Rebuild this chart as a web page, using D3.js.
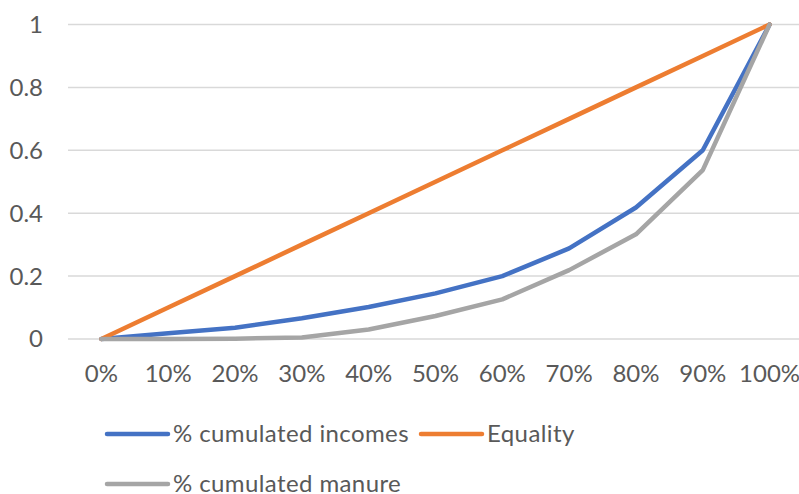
<!DOCTYPE html>
<html><head><meta charset="utf-8">
<script src="https://cdn.jsdelivr.net/npm/d3@7"></script>
<style>body{margin:0;background:#fff}svg{display:block}</style>
</head><body>
<script>
const categories = ["0%","10%","20%","30%","40%","50%","60%","70%","80%","90%","100%"];
const incomes = [0, 0.018, 0.036, 0.066, 0.102, 0.145, 0.2, 0.288, 0.418, 0.6, 1];
const equality = [0, 0.1, 0.2, 0.3, 0.4, 0.5, 0.6, 0.7, 0.8, 0.9, 1];
const manure = [0, 0, 0.001, 0.005, 0.03, 0.073, 0.126, 0.219, 0.333, 0.537, 1];
const yTicks = [0, 0.2, 0.4, 0.6, 0.8, 1];
const seriesNames = ["% cumulated incomes", "Equality", "% cumulated manure"];
const colors = ["#4472C4", "#ED7D31", "#A5A5A5"];

const W = 799, H = 494;
const font = "Lato, 'Open Sans', sans-serif";
const svg = d3.select("body").append("svg").attr("width", W).attr("height", H);

const x = d3.scaleBand().domain(categories).range([68, 803]);
const y = d3.scaleLinear().domain([0, 1]).range([339, 24.5]);

// gridlines
svg.append("g").selectAll("line").data(yTicks).join("line")
  .attr("x1", 68).attr("x2", 799)
  .attr("y1", d => y(d)).attr("y2", d => y(d))
  .attr("stroke", "#D9D9D9").attr("stroke-width", 1.5);

// y labels
svg.append("g").selectAll("text").data(yTicks).join("text")
  .attr("x", 43).attr("y", d => y(d)).attr("dy", "0.35em")
  .attr("text-anchor", "end")
  .attr("font-family", font).attr("font-size", 24).attr("fill", "#595959")
  .text(d => d3.format("~g")(d));

// x labels
svg.append("g").selectAll("text").data(categories).join("text")
  .attr("x", d => x(d) + x.bandwidth() / 2).attr("y", 382)
  .attr("text-anchor", "middle")
  .attr("font-family", font).attr("font-size", 24).attr("fill", "#595959")
  .text(d => d);

const line = d3.line().x((d, i) => x(categories[i]) + x.bandwidth() / 2).y(d => y(d));
const data = [incomes, equality, manure];
data.forEach((s, k) => {
  svg.append("path").datum(s).attr("d", line)
    .attr("fill", "none").attr("stroke", colors[k]).attr("stroke-width", 4.5)
    .attr("stroke-linejoin", "round").attr("stroke-linecap", "round");
});

// legend
const legendPos = [[107, 434], [421, 434], [107, 484]];
seriesNames.forEach((name, k) => {
  const [lx, ly] = legendPos[k];
  svg.append("line").attr("x1", lx).attr("x2", lx + 61).attr("y1", ly).attr("y2", ly)
    .attr("stroke", colors[k]).attr("stroke-width", 4.5).attr("stroke-linecap", "round");
  svg.append("text").attr("x", lx + 66).attr("y", ly + 8)
    .attr("font-family", font).attr("font-size", 24).attr("letter-spacing", 0.4)
    .attr("fill", "#595959")
    .text(name);
});
</script>
</body></html>
